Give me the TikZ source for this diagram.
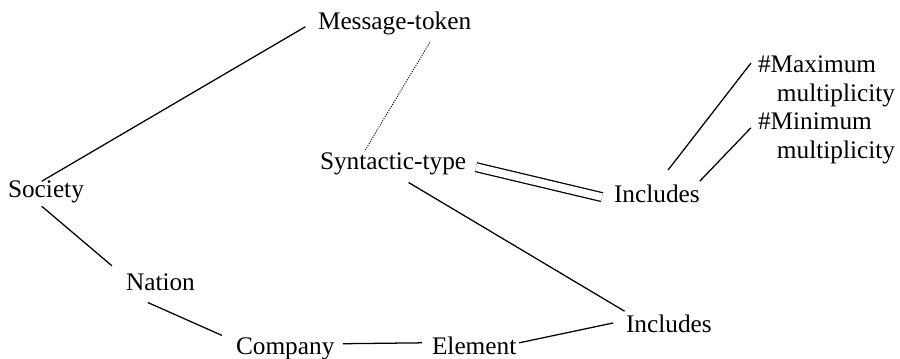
\documentclass[tikz,border=0pt]{standalone}
\usepackage{fontspec}
\setmainfont{Liberation Serif}
\usepackage{tikz}

\begin{document}
\begin{tikzpicture}[x=0.025cm, y=-0.025cm, line width=0.9pt, word/.style = {inner sep=0pt, outer sep=0pt, anchor=base west, font=\fontsize{18}{20.6}\selectfont}, multi/.style = {inner sep=0pt, outer sep=0pt, anchor=north west, align=left, font=\fontsize{18}{20.6}\selectfont}]
\useasboundingbox (0,0) rectangle (900,359);
\node[word] (msg) at (318,30) {Message-token};
\node[word] (syn) at (320,170) {Syntactic-type};
\node[word] (society) at (8,198) {Society};
\node[word] (nation) at (126,291) {Nation};
\node[word] (company) at (236,355) {Company};
\node[word] (element) at (432,355) {Element};
\node[word] (inc1) at (614,203) {Includes};
\node[word] (inc2) at (626,333) {Includes};
\node[multi] (max) at (758,56) {\#Maximum\\\hspace*{13.5pt}multiplicity};
\node[multi] (min) at (758,113) {\#Minimum\\\hspace*{13.5pt}multiplicity};
\draw ([xshift=-3pt]society.north) -- ([xshift=-9pt,yshift=-2pt]msg.west);
\draw ([xshift=-3pt,yshift=-2pt]society.south) -- ([xshift=-10pt,yshift=6pt]nation.north west);
\draw ([xshift=-9pt,yshift=-8pt]nation.south) -- ([xshift=-10pt,yshift=2pt]company.north west);
\draw ([xshift=6pt,yshift=4pt]company.east) -- ([xshift=-7pt,yshift=2.5pt]element.west);
\draw ([xshift=2pt,yshift=2.5pt]element.east) -- ([xshift=-9pt,yshift=1pt]inc2.west);
\draw ([xshift=11pt,yshift=-5pt]syn.south) -- ([xshift=-1pt,yshift=3pt]inc2.north west);
\draw[densely dotted, line width=0.7pt] ([xshift=25pt,yshift=-5pt]msg.south) -- ([xshift=-20pt,yshift=2pt]syn.north);
\draw[double, double distance=5.4pt] ([xshift=7pt,yshift=-2pt]syn.east) -- ([xshift=-8.5pt,yshift=-2pt]inc1.west);
\draw ([xshift=8pt,yshift=11pt]inc1.north) -- ([xshift=-5pt,yshift=-5pt]max.north west);
\draw ([yshift=3pt]inc1.north east) -- ([xshift=-5pt,yshift=-10.5pt]min.north west);
\end{tikzpicture}
\end{document}
